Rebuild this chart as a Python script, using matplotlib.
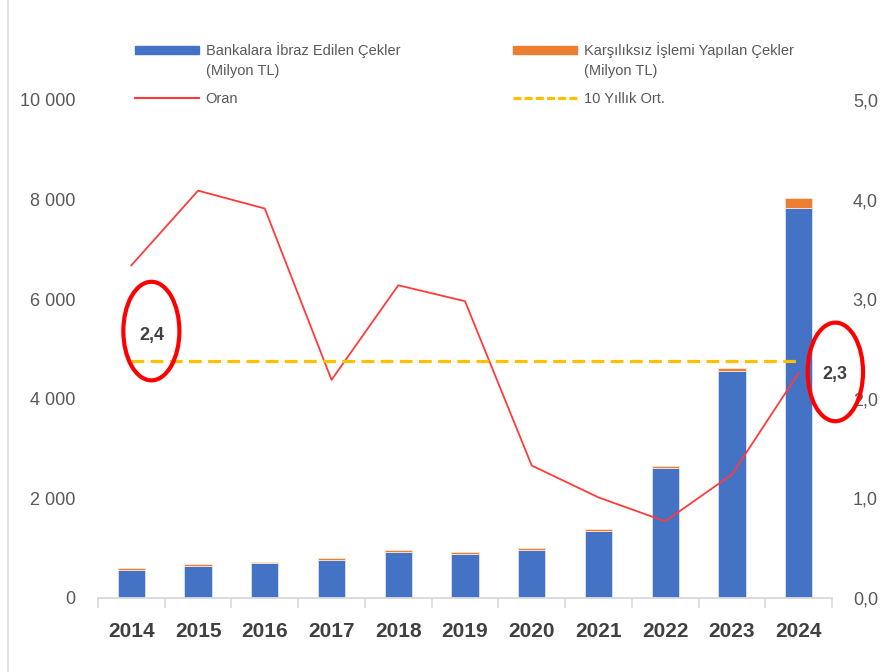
import numpy as np
import matplotlib.pyplot as plt
from matplotlib.patches import Ellipse
from matplotlib.lines import Line2D

plt.rcParams['font.family'] = ['Liberation Sans', 'DejaVu Sans']

# Veriler
yillar = ['2014', '2015', '2016', '2017', '2018', '2019', '2020', '2021', '2022', '2023', '2024']
ibraz = [570, 646, 693, 767, 920, 888, 962, 1355, 2620, 4556, 7835]
karsiliksiz = [36, 40, 34, 40, 48, 40, 40, 35, 35, 66, 193]
oran = [3.34, 4.09, 3.91, 2.19, 3.14, 2.98, 1.33, 1.01, 0.77, 1.24, 2.26]
ort_10 = 2.38

mavi = '#4472C4'
turuncu = '#ED7D31'
gri = '#595959'
koyu = '#404040'
cizgi = '#D9D9D9'

fig = plt.figure(figsize=(8.89, 6.72), dpi=100)
ax = fig.add_axes([98 / 889, 74 / 672, 734 / 889, 498 / 672])
ax2 = ax.twinx()

x = np.arange(len(yillar))
ax.bar(x, ibraz, width=0.41, color=mavi, edgecolor='#DAE3F3', linewidth=0.6, zorder=2)
ax.bar(x, karsiliksiz, width=0.41, bottom=ibraz, color=turuncu, edgecolor='#FBE5D6',
       linewidth=0.6, zorder=2)

ax2.plot(x, oran, color='#FF3B3B', linewidth=1.3, zorder=3)
ax2.plot([x[0], x[-1]], [ort_10, ort_10], color='#FFC000', linewidth=2.3,
         dashes=(4, 2), zorder=3)

# Eksenler
ax.set_xlim(-0.5, len(yillar) - 0.5)
ax.set_ylim(0, 10000)
ax2.set_ylim(0, 5)
ax.set_yticks(np.arange(0, 10001, 2000))
ax.set_yticklabels([f'{v:,}'.replace(',', ' ') for v in range(0, 10001, 2000)])
ax2.set_yticks(np.arange(0, 5.01, 1))
ax2.set_yticklabels([f'{v:.1f}'.replace('.', ',') for v in np.arange(0, 5.01, 1)])

ax.set_xticks(x)
ax.set_xticklabels(yillar, fontsize=15, fontweight='bold', color=koyu)
ax.set_xticks(np.arange(-0.5, len(yillar), 1), minor=True)
ax.tick_params(axis='x', which='major', length=0, pad=17)
ax.tick_params(axis='x', which='minor', length=7, color=cizgi, width=1.2)
ax.tick_params(axis='y', length=0, pad=16, labelsize=13, labelcolor=gri)
ax2.tick_params(axis='y', length=0, pad=15, labelsize=13, labelcolor=gri)

for a in (ax, ax2):
    for s in ['top', 'left', 'right']:
        a.spines[s].set_visible(False)
    a.spines['bottom'].set_color(cizgi)
    a.spines['bottom'].set_linewidth(1.3)
ax2.spines['bottom'].set_visible(False)

# Lejant
h_ibraz = plt.Rectangle((0, 0), 1, 1, color=mavi)
h_kars = plt.Rectangle((0, 0), 1, 1, color=turuncu)
h_oran = Line2D([], [], color='#FF3B3B', linewidth=1.5)
h_ort = Line2D([], [], color='#FFC000', linewidth=2.3, dashes=(2.5, 1))

ortak = dict(loc='upper left', frameon=False, borderpad=0, borderaxespad=0,
             handlelength=4.4, handleheight=0.45, handletextpad=0.45,
             labelspacing=2.3, prop={'size': 10.5}, labelcolor=gri,
             bbox_transform=fig.transFigure)
leg1 = fig.legend([h_ibraz, h_oran], ['Bankalara İbraz Edilen Çekler', 'Oran'],
                  bbox_to_anchor=(135 / 889, 1 - 42 / 672), **ortak)
leg2 = fig.legend([h_kars, h_ort], ['Karşılıksız İşlemi Yapılan Çekler', '10 Yıllık Ort.'],
                  bbox_to_anchor=(513 / 889, 1 - 42 / 672), **ortak)

# "(Milyon TL)" ikinci satırı, lejant metninin altına
fig.canvas.draw()
for leg in (leg1, leg2):
    bb = leg.get_texts()[0].get_window_extent().transformed(fig.transFigure.inverted())
    fig.text(bb.x0, bb.y0 - 6 / 672, '(Milyon TL)', fontsize=10.5, color=gri,
             va='top', ha='left')

# Vurgular
ort_etiket = f'{ort_10:.1f}'.replace('.', ',')
son_etiket = f'{oran[-1]:.1f}'.replace('.', ',')
ax2.text(0.3, 2.64, ort_etiket, ha='center', va='center', fontsize=13,
         fontweight='bold', color=koyu, zorder=5)
ax2.add_patch(Ellipse((0.3, 2.68), 0.84, 0.99, fill=False, edgecolor='#FF0000',
                      linewidth=3, clip_on=False, zorder=5))
ax2.text(10.55, 2.24, son_etiket, ha='center', va='center', fontsize=13,
         fontweight='bold', color=koyu, zorder=5, clip_on=False)
ax2.add_patch(Ellipse((10.55, 2.27), 0.83, 0.99, fill=False, edgecolor='#FF0000',
                      linewidth=3, clip_on=False, zorder=5))

# Sol kenar çizgisi
fig.add_artist(Line2D([8 / 889, 8 / 889], [0, 1], transform=fig.transFigure,
                      color=cizgi, linewidth=1.2))

fig.savefig('out.png', dpi=100)
